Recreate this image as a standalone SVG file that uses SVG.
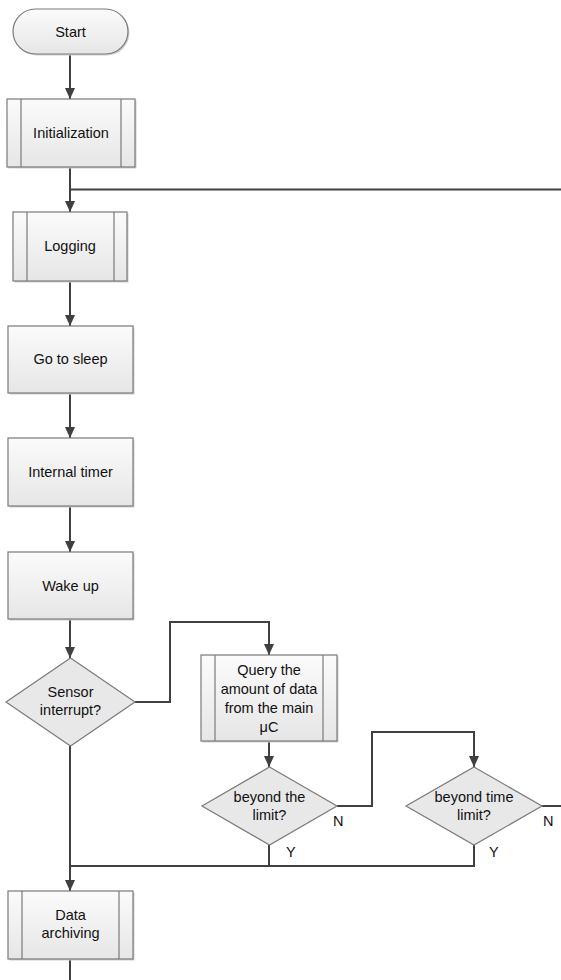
<svg xmlns="http://www.w3.org/2000/svg" width="561" height="980" viewBox="0 0 561 980">
<style>
.box{fill:url(#g);stroke:#7a7a7a;stroke-width:1.2}
.sh{fill:#cfcfcf}
.in{stroke:#7a7a7a;stroke-width:1.2}
.dia{fill:#e8e8e8;stroke:#7a7a7a;stroke-width:1.2}
.c{fill:none;stroke:#404040;stroke-width:2}
.a{marker-end:url(#arr)}
text{font-family:"Liberation Sans",Arial,sans-serif;font-size:14.5px;fill:#111;text-anchor:middle}
.lab{text-anchor:start}
</style>
<defs>
<linearGradient id="g" x1="0" y1="0" x2="0" y2="1">
<stop offset="0" stop-color="#fbfbfb"/>
<stop offset="1" stop-color="#e6e6e6"/>
</linearGradient>
<marker id="arr" markerUnits="userSpaceOnUse" markerWidth="11" markerHeight="12" refX="12" refY="5.5" orient="auto" viewBox="0 0 12 11">
<path d="M0,0 L12,5.5 L0,11 z" fill="#404040"/>
</marker>
</defs>
<rect width="561" height="980" fill="#fff"/>
<g id="connectors">
<path class="c a" d="M70,54 V99"/>
<path class="c a" d="M70,167 V212"/>
<path class="c" d="M561,189.5 H70"/>
<path class="c a" d="M70,281 V326"/>
<path class="c a" d="M70,393 V438"/>
<path class="c a" d="M70,506 V552"/>
<path class="c a" d="M70,619 V658"/>
<path class="c a" d="M135,702 H170 V622 H269 V655"/>
<path class="c a" d="M269,741 V767"/>
<path class="c a" d="M337,806 H372 V732 H474 V767"/>
<path class="c" d="M542,806 H561"/>
<path class="c a" d="M70,746 V891"/>
<path class="c" d="M269,845 V866"/>
<path class="c" d="M474,845 V866 H70"/>
<path class="c" d="M70,959 V980"/>
</g>
<g id="start">
<rect class="sh" x="14.5" y="10.5" width="115" height="45" rx="22.5"/>
<rect class="box" x="13" y="9" width="115" height="45" rx="22.5"/>
<text x="70.5" y="37">Start</text>
</g>
<g id="init">
<rect class="sh" x="8.5" y="100.5" width="128" height="68"/>
<rect class="box" x="7" y="99" width="128" height="68"/>
<line class="in" x1="21" y1="99" x2="21" y2="167"/>
<line class="in" x1="121" y1="99" x2="121" y2="167"/>
<text x="71" y="138">Initialization</text>
</g>
<g id="logging">
<rect class="sh" x="14.5" y="213.5" width="114" height="69"/>
<rect class="box" x="13" y="212" width="114" height="69"/>
<line class="in" x1="27" y1="212" x2="27" y2="281"/>
<line class="in" x1="114" y1="212" x2="114" y2="281"/>
<text x="70" y="251">Logging</text>
</g>
<g id="sleep">
<rect class="sh" x="9.5" y="327.5" width="125" height="67"/>
<rect class="box" x="8" y="326" width="125" height="67"/>
<text x="70.5" y="364">Go to sleep</text>
</g>
<g id="timer">
<rect class="sh" x="9.5" y="439.5" width="125" height="68"/>
<rect class="box" x="8" y="438" width="125" height="68"/>
<text x="70.5" y="477">Internal timer</text>
</g>
<g id="wake">
<rect class="sh" x="9.5" y="553.5" width="125" height="67"/>
<rect class="box" x="8" y="552" width="125" height="67"/>
<text x="70.5" y="591">Wake up</text>
</g>
<g id="sensor">
<polygon class="dia" points="70.5,658 135,702 70.5,746 6,702"/>
<text x="70.5" y="697">Sensor</text>
<text x="70.5" y="715">interrupt?</text>
</g>
<g id="query">
<rect class="sh" x="202.5" y="656.5" width="136" height="86"/>
<rect class="box" x="201" y="655" width="136" height="86"/>
<line class="in" x1="215" y1="655" x2="215" y2="741"/>
<line class="in" x1="323" y1="655" x2="323" y2="741"/>
<text x="269" y="675">Query the</text>
<text x="269" y="694">amount of data</text>
<text x="269" y="713">from the main</text>
<text x="269" y="732">μC</text>
</g>
<g id="limit">
<polygon class="dia" points="269.5,767 337,806 269.5,845 202,806"/>
<text x="269.5" y="802">beyond the</text>
<text x="269.5" y="820">limit?</text>
<text class="lab" x="333" y="826">N</text>
<text class="lab" x="286" y="857">Y</text>
</g>
<g id="timelimit">
<polygon class="dia" points="474,767 542,806 474,845 406,806"/>
<text x="474" y="802">beyond time</text>
<text x="474" y="820">limit?</text>
<text class="lab" x="543" y="826">N</text>
<text class="lab" x="489" y="857">Y</text>
</g>
<g id="archiving">
<rect class="sh" x="9.5" y="892.5" width="125" height="68"/>
<rect class="box" x="8" y="891" width="125" height="68"/>
<line class="in" x1="22" y1="891" x2="22" y2="959"/>
<line class="in" x1="119" y1="891" x2="119" y2="959"/>
<text x="70.5" y="920">Data</text>
<text x="70.5" y="938">archiving</text>
</g>
</svg>
